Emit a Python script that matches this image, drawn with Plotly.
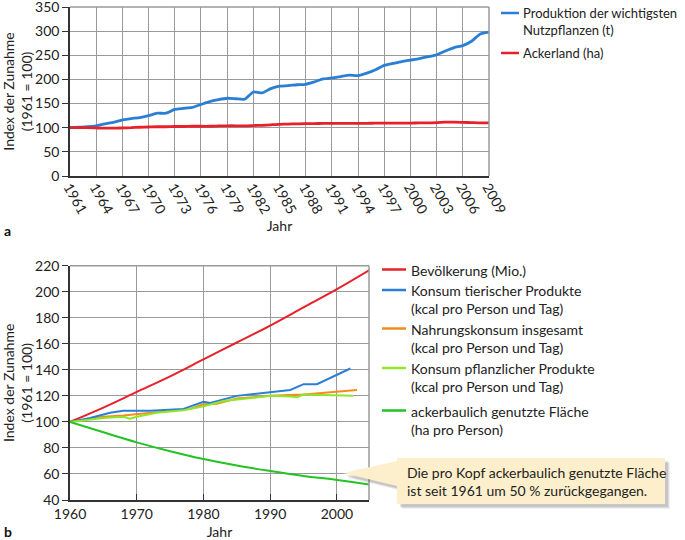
import plotly.graph_objects as go

W, H = 685, 540
FONT = "Lato"

# ---------- data: chart a ----------
years_a = list(range(1961, 2010))
produktion = [100, 101, 102, 104, 108, 111, 116, 119, 121, 125, 130, 130, 138, 140, 142, 148, 154, 158, 161, 160, 159, 174, 172, 181, 186, 187, 189, 190, 195, 201, 203, 206, 209, 208, 213,
              220, 229, 233, 237, 240, 243, 247, 251, 259, 266, 270, 279, 294, 298]
ackerland = [100, 100, 100, 99.5, 99, 99, 99.5, 100, 101, 101.5, 102, 102, 102.5, 102.5, 103, 103, 103, 103.5, 104, 104, 104, 104.5, 105, 106, 107, 107.5, 108, 108.5, 108.5, 109, 109,
             109, 109, 109, 109, 109.5, 109.5, 109.5, 109.5, 109.5, 110, 110, 110.5, 111.5, 111.5, 111, 110.5, 110, 110]
ticks_a = list(range(1961, 2010, 3))

# ---------- data: chart b ----------
years_bev = [1960, 1965, 1970, 1975, 1980, 1985, 1990, 1995, 2000, 2005]
bevoelkerung = [100, 111, 123, 135, 148, 161, 174, 188, 202, 217]
years_tier = [1960, 1963, 1966, 1968, 1972, 1977, 1980, 1981, 1985, 1990, 1993, 1995, 1997, 2002]
tierisch = [100, 103, 107, 108.5, 108.5, 110, 115.5, 114.5, 120, 123, 124.5, 129, 129, 141]
years_nahr = [1960, 1965, 1968, 1970, 1975, 1978, 1980, 1982, 1985, 1990, 1995, 2000, 2003]
nahrung = [100, 104, 105, 106, 109, 110, 113.5, 114, 118, 120, 121, 123, 124.5]
years_pfl = [1960, 1965, 1968, 1969, 1970, 1973, 1977, 1980, 1983, 1985, 1990, 1993, 1994, 1995, 2000, 2002.4]
pflanzlich = [100, 103, 104, 102.5, 104, 107, 109, 112, 116, 117, 120, 119.5, 119, 121, 120.5, 120]
years_acker = [1960, 1965, 1970, 1975, 1980, 1985, 1990, 1995, 2000, 2005]
acker_pp = [100, 92, 84.3, 77.5, 71.5, 66.5, 62.3, 58.5, 55.4, 51.8]

names_a = ["Produktion der wichtigsten<br>Nutzpflanzen (t)", "Ackerland (ha)"]
names_b = ["Bevölkerung (Mio.)", "Konsum tierischer Produkte<br>(kcal pro Person und Tag)",
           "Nahrungskonsum insgesamt<br>(kcal pro Person und Tag)",
           "Konsum pflanzlicher Produkte<br>(kcal pro Person und Tag)",
           "ackerbaulich genutzte Fläche<br>(ha pro Person)"]
note = "Die pro Kopf ackerbaulich genutzte Fläche<br>ist seit 1961 um 50 % zurückgegangen."

BLUE, RED, ORANGE, LIME, GREEN = "#2a7fd4", "#e8202a", "#f68a1f", "#8ee82a", "#22c322"

def px(x):
    return x / W

def py(y):
    return 1 - y / H

fig = go.Figure()
lw = 2.8
fig.add_trace(go.Scatter(x=years_a, y=produktion, mode="lines", line=dict(color=BLUE, width=lw, shape="spline", smoothing=0.6), xaxis="x", yaxis="y"))
fig.add_trace(go.Scatter(x=years_a, y=ackerland, mode="lines", line=dict(color=RED, width=lw, shape="spline", smoothing=0.6), xaxis="x", yaxis="y"))

lw2 = 2.0
fig.add_trace(go.Scatter(x=years_bev, y=bevoelkerung, mode="lines", line=dict(color=RED, width=lw2, shape="spline"), xaxis="x2", yaxis="y2"))
fig.add_trace(go.Scatter(x=years_nahr, y=nahrung, mode="lines", line=dict(color=ORANGE, width=lw2), xaxis="x2", yaxis="y2"))
fig.add_trace(go.Scatter(x=years_tier, y=tierisch, mode="lines", line=dict(color=BLUE, width=lw2), xaxis="x2", yaxis="y2"))
fig.add_trace(go.Scatter(x=years_pfl, y=pflanzlich, mode="lines", line=dict(color=LIME, width=lw2), xaxis="x2", yaxis="y2"))
fig.add_trace(go.Scatter(x=years_acker, y=acker_pp, mode="lines", line=dict(color=GREEN, width=lw2, shape="spline"), xaxis="x2", yaxis="y2"))

FS = 14
LFS = 14
tickfont = dict(family=FONT, size=FS, color="#222")
grid = "#9a9a9a"
axline = "#333"
ytitle = "Index der Zunahme<br>(1961 = 100)"
TOP = 7

fig.update_layout(
    width=W, height=H, margin=dict(l=0, r=0, t=0, b=0),
    paper_bgcolor="white", plot_bgcolor="white", showlegend=False,
    font=dict(family=FONT, size=FS, color="#222"),
    xaxis=dict(domain=[px(70), px(489)], range=[1961, 2009], tickvals=ticks_a, tickangle=60,
               showgrid=True, gridcolor=grid, gridwidth=1, showline=True, linecolor=axline, linewidth=1.5,
               ticks="", zeroline=False, tickfont=tickfont, anchor="y", automargin=False,
               ticklabelshift=-1, ticklabelstandoff=-4, ticklabeloverflow="allow",
               title=dict(text="Jahr", font=dict(family=FONT, size=FS), standoff=2)),
    yaxis=dict(domain=[py(176), py(TOP)], range=[0, 350], dtick=50, showgrid=True, gridcolor=grid,
               showline=True, linecolor=axline, linewidth=1.5, ticks="outside", ticklen=6, tickcolor=axline,
               zeroline=False, tickfont=tickfont, anchor="x", automargin=False, ticklabeloverflow="allow",
               title=dict(text=ytitle, font=dict(family=FONT, size=FS), standoff=12)),
    xaxis2=dict(domain=[px(70), px(369)], range=[1960, 2004.8], dtick=10, showgrid=True, gridcolor=grid,
                showline=True, linecolor=axline, linewidth=1.5, ticks="inside", ticklen=6, tickcolor=axline,
                zeroline=False, tickfont=tickfont, anchor="y2", automargin=False, ticklabeloverflow="allow",
                title=dict(text="Jahr", font=dict(family=FONT, size=FS), standoff=10)),
    yaxis2=dict(domain=[py(500), py(265.7)], range=[40, 220], dtick=20, showgrid=True, gridcolor=grid,
                showline=True, linecolor=axline, linewidth=1.5, ticks="outside", ticklen=6, tickcolor=axline,
                zeroline=False, tickfont=tickfont, anchor="x2", automargin=False, ticklabeloverflow="allow",
                title=dict(text=ytitle, font=dict(family=FONT, size=FS), standoff=12)),
)

shapes = []
annots = []
# frames (right / top edges)
for (x0, x1, y0, y1) in [(70, 489, TOP, 176), (70, 369, 265.7, 500)]:
    shapes.append(dict(type="line", xref="paper", yref="paper", x0=px(x1), x1=px(x1), y0=py(y0), y1=py(y1), line=dict(color=grid, width=1.5)))
    shapes.append(dict(type="line", xref="paper", yref="paper", x0=px(x0), x1=px(x1), y0=py(y0), y1=py(y0), line=dict(color=grid, width=1.5)))

# legend a
leg_a = [(names_a[0], BLUE, 13), (names_a[1], RED, 53)]
for name, col, ly in leg_a:
    shapes.append(dict(type="line", xref="paper", yref="paper", x0=px(501), x1=px(519), y0=py(ly), y1=py(ly), line=dict(color=col, width=2.5)))
    annots.append(dict(xref="paper", yref="paper", x=px(521), y=py(ly - 10), xanchor="left", yanchor="top", align="left",
                       text=name, showarrow=False, font=dict(family=FONT, size=13, color="#222")))

# legend b
leg_b = [(names_b[0], RED, 269.5), (names_b[1], BLUE, 290), (names_b[2], ORANGE, 328.5), (names_b[3], LIME, 368), (names_b[4], GREEN, 410.5)]
for name, col, ly in leg_b:
    shapes.append(dict(type="line", xref="paper", yref="paper", x0=px(382), x1=px(406), y0=py(ly), y1=py(ly), line=dict(color=col, width=2.5)))
    annots.append(dict(xref="paper", yref="paper", x=px(409), y=py(ly - 10), xanchor="left", yanchor="top", align="left",
                       text=name, showarrow=False, font=dict(family=FONT, size=LFS, color="#222")))

# callout with shadow
def path(pts):
    return "M " + " L ".join(f"{px(x)},{py(y)}" for x, y in pts) + " Z"

box = [(397, 458), (665, 458), (665, 504), (397, 504), (397, 486), (343, 473), (397, 461)]
for off, op in [(5, 0.06), (4, 0.08), (3, 0.1)]:
    sh = [(x + off, y + off) for x, y in box]
    shapes.append(dict(type="path", xref="paper", yref="paper", path=path(sh), fillcolor=f"rgba(0,0,0,{op})", line=dict(width=0), layer="above"))
shapes.append(dict(type="path", xref="paper", yref="paper", path=path(box), fillcolor="#fdefcb", line=dict(width=0), layer="above"))
annots.append(dict(xref="paper", yref="paper", x=px(405), y=py(481), xanchor="left", yanchor="middle", align="left",
                   text=note, showarrow=False, font=dict(family=FONT, size=14, color="#222")))

# panel labels
annots.append(dict(xref="paper", yref="paper", x=px(2), y=py(230), xanchor="left", yanchor="middle", text="<b>a</b>", showarrow=False, font=dict(family=FONT, size=14, color="#111")))
annots.append(dict(xref="paper", yref="paper", x=px(2), y=py(531), xanchor="left", yanchor="middle", text="<b>b</b>", showarrow=False, font=dict(family=FONT, size=14, color="#111")))

fig.update_layout(shapes=shapes, annotations=annots)
fig.write_html("out.html", config={"displayModeBar": False},
               post_script="document.body.style.margin='0';document.body.style.overflow='hidden';")
